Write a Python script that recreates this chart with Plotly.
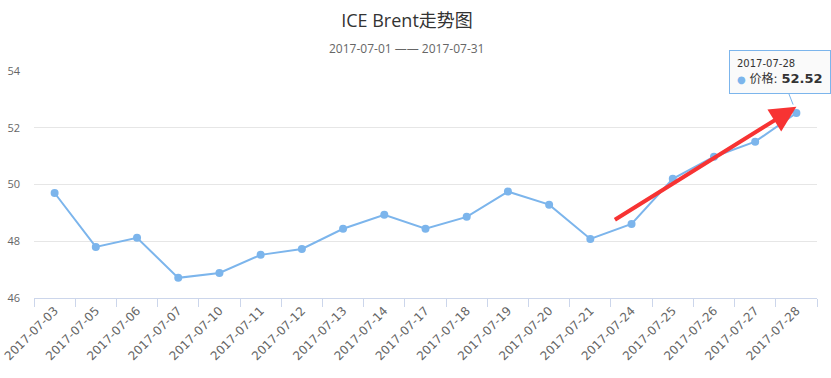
import plotly.graph_objects as go

dates = ["2017-07-03", "2017-07-05", "2017-07-06", "2017-07-07", "2017-07-10",
         "2017-07-11", "2017-07-12", "2017-07-13", "2017-07-14", "2017-07-17",
         "2017-07-18", "2017-07-19", "2017-07-20", "2017-07-21", "2017-07-24",
         "2017-07-25", "2017-07-26", "2017-07-27", "2017-07-28"]
prices = [49.70, 47.80, 48.12, 46.71, 46.88, 47.52, 47.73, 48.44, 48.93, 48.44,
          48.86, 49.75, 49.29, 48.08, 48.61, 50.20, 50.98, 51.51, 52.52]
y_ticks = [46, 48, 50, 52, 54]

title_text = "ICE Brent走势图"
subtitle_text = "2017-07-01 —— 2017-07-31"
series_name = "价格"

FONT = "Open Sans, Noto Sans CJK SC, DejaVu Sans, sans-serif"
XFONT = "DejaVu Sans, Noto Sans CJK SC, sans-serif"
LINE = "#7cb5ec"
TITLE_X = 407 / 831

fig = go.Figure()
fig.add_trace(go.Scatter(
    x=dates, y=prices, mode="lines+markers", name=series_name,
    line=dict(color=LINE, width=2),
    marker=dict(color=LINE, size=8),
    hoverinfo="skip",
))

annotations = [
    # tooltip box
    dict(
        x=dates[-1], y=prices[-1], xref="x", yref="y",
        text=(f"<span style='font-size:10px'>{dates[-1]}</span><br>"
              f"<span style='color:{LINE};font-size:10px'>●</span> {series_name}: "
              f"<b style='font-size:13px'>{prices[-1]:.2f}</b>"),
        showarrow=True, arrowhead=0, arrowwidth=1, arrowcolor=LINE, standoff=9,
        ax=-16, ay=-41, axref="pixel", ayref="pixel",
        align="left", bgcolor="rgba(250,250,250,0.95)", bordercolor=LINE, borderwidth=1,
        borderpad=7, font=dict(family=XFONT, size=12, color="#333333"),
    ),
    # red arrow marker
    dict(
        x=dates[-1], y=52.74, xref="x", yref="y",
        text="", showarrow=True, arrowhead=2, arrowsize=1.3, arrowwidth=4,
        arrowcolor="#f73333", ax=-183, ay=114, axref="pixel", ayref="pixel",
    ),
    # subtitle
    dict(
        text=subtitle_text, xref="paper", yref="paper",
        x=(406 - 34) / 783, y=1, yshift=23,
        xanchor="center", yanchor="middle", showarrow=False,
        font=dict(size=12, color="#666666", family=FONT),
    ),
]

fig.update_layout(
    width=831, height=378,
    margin=dict(l=34, r=14, t=71, b=80, autoexpand=False),
    paper_bgcolor="white", plot_bgcolor="white",
    showlegend=False,
    font=dict(family=FONT, color="#666666", size=11),
    title=dict(text=title_text, x=TITLE_X, xref="container", xanchor="center",
               y=1 - 21 / 378, yref="container", yanchor="middle",
               font=dict(size=18, color="#333333", family=FONT)),
    annotations=annotations,
)
fig.update_xaxes(
    type="category", range=[-0.5, len(dates) - 0.5],
    tickangle=-45, tickson="boundaries", automargin=False,
    ticks="outside", ticklen=8, tickcolor="#ccd6eb",
    showline=True, linecolor="#ccd6eb", linewidth=1,
    showgrid=False, tickfont=dict(size=12, color="#666666", family=XFONT),
)
fig.update_yaxes(
    range=[46, 54], tickvals=y_ticks, showgrid=True, gridcolor="#e6e6e6",
    zeroline=False, showline=False, ticks="", automargin=False,
    ticklabelstandoff=13,
    tickfont=dict(size=11, color="#666666"),
)

fig.write_html("out.html", config={"displayModeBar": False},
               post_script="document.body.style.margin='0';")
